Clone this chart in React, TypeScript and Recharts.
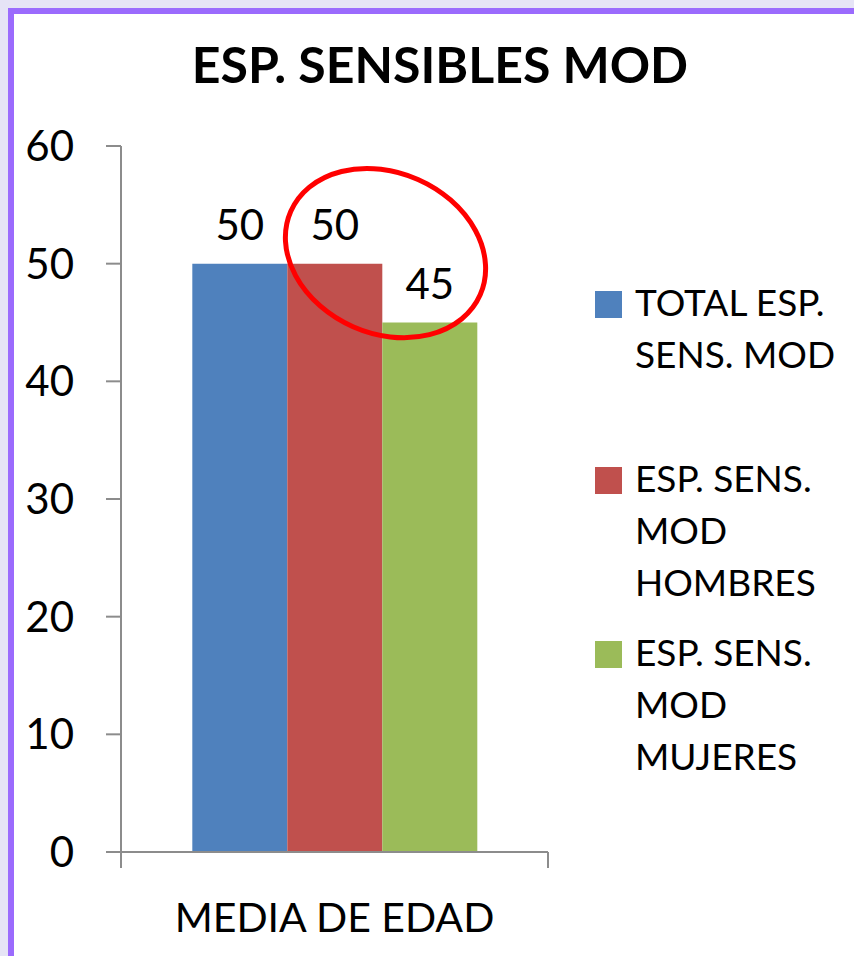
import React from 'react'
import { BarChart, Bar, XAxis, YAxis, Legend, LabelList, ReferenceArea, ReferenceDot } from 'recharts'

const categories = ['MEDIA DE EDAD']
const totalValues = [50]
const hombresValues = [50]
const mujeresValues = [45]
const seriesNames = ['TOTAL ESP. SENS. MOD', 'ESP. SENS. MOD HOMBRES', 'ESP. SENS. MOD MUJERES']
const legendLines = [
  ['TOTAL ESP.', 'SENS. MOD'],
  ['ESP. SENS.', 'MOD', 'HOMBRES'],
  ['ESP. SENS.', 'MOD', 'MUJERES'],
]
const yTicks = [0, 10, 20, 30, 40, 50, 60]
const title = 'ESP. SENSIBLES MOD'

const data = categories.map((c, i) => ({
  cat: c,
  total: totalValues[i],
  hombres: hombresValues[i],
  mujeres: mujeresValues[i],
}))

const FONT = 'Lato, "Open Sans", sans-serif'
const AXIS = '#8c8c8c'
const colors = ['#4f81bd', '#c0504d', '#9bbb59']
const legendGaps = [0, 72, 18]

function BoundaryTicks(props: any) {
  const { x, y, width, height } = props
  return (
    <g>
      <line x1={x} y1={y} x2={x} y2={y + height} stroke={AXIS} strokeWidth={2} />
      <line x1={x + width} y1={y} x2={x + width} y2={y + height} stroke={AXIS} strokeWidth={2} />
    </g>
  )
}

function Highlight(props: any) {
  const { cx, cy } = props
  const ex = cx + 51
  return (
    <ellipse cx={ex} cy={cy} rx={103.5} ry={80.5} transform={`rotate(23.8 ${ex} ${cy})`}
      fill="none" stroke="#ff0000" strokeWidth={5} />
  )
}

function LegendBox({ payload }: any) {
  // keep the series order, recharts sorts the payload by name
  const items = [...(payload || [])].sort(
    (a: any, b: any) => seriesNames.indexOf(a.value) - seriesNames.indexOf(b.value)
  )
  return (
    <div style={{ fontFamily: FONT, fontSize: 37, lineHeight: '52px', color: '#000' }}>
      {items.map((p: any, i: number) => {
        const k = seriesNames.indexOf(p.value)
        return (
          <div key={i} style={{ position: 'relative', marginTop: legendGaps[i], paddingLeft: 40 }}>
            <div style={{ position: 'absolute', left: 0, top: 15, width: 27, height: 27, background: p.color }} />
            {legendLines[k].map((l, j) => <div key={j} style={{ whiteSpace: 'nowrap' }}>{l}</div>)}
          </div>
        )
      })}
    </div>
  )
}

export default function App() {
  const tickStyle = { fontSize: 42, fill: '#000', fontFamily: FONT }
  return (
    <div style={{ position: 'absolute', left: 0, top: 0, width: 854, height: 956, overflow: 'hidden', background: '#e6e4f6' }}>
      <div style={{
        position: 'absolute', left: 8, top: 8, width: 900, height: 1000, background: '#fff',
        borderTop: '6px solid #9b6bfd', borderLeft: '6px solid #9b6bfd',
      }} />
      <div style={{
        position: 'absolute', left: 140, top: 38, width: 600, textAlign: 'center',
        fontFamily: FONT, fontWeight: 700, fontSize: 50, lineHeight: '52px', color: '#000',
      }}>{title}</div>
      <div style={{ position: 'absolute', left: 0, top: 0 }}>
        <BarChart width={854} height={956} data={data}
          margin={{ top: 146, right: 47, bottom: 14, left: 0 }}
          barCategoryGap="16.7%" barGap={0}>
          <XAxis dataKey="cat" tickLine={false} tickSize={0} tickMargin={51} height={90}
            axisLine={{ stroke: AXIS, strokeWidth: 2 }} tick={{ ...tickStyle, fontSize: 41 }} interval={0} />
          <YAxis domain={[0, 60]} ticks={yTicks} interval={0} width={121}
            tickSize={15} tickMargin={32} tick={tickStyle}
            axisLine={{ stroke: AXIS, strokeWidth: 2 }} tickLine={{ stroke: AXIS, strokeWidth: 2 }} />
          <Legend layout="vertical" align="right" verticalAlign="top" content={<LegendBox />}
            wrapperStyle={{ left: 595, top: 276, width: 259, height: 540 }} />
          <Bar dataKey="total" name={seriesNames[0]} fill={colors[0]} isAnimationActive={false}>
            <LabelList dataKey="total" position="top" offset={24} style={{ fontSize: 42, fill: '#000', fontFamily: FONT }} />
          </Bar>
          <Bar dataKey="hombres" name={seriesNames[1]} fill={colors[1]} isAnimationActive={false}>
            <LabelList dataKey="hombres" position="top" offset={24} style={{ fontSize: 42, fill: '#000', fontFamily: FONT }} />
          </Bar>
          <Bar dataKey="mujeres" name={seriesNames[2]} fill={colors[2]} isAnimationActive={false}>
            <LabelList dataKey="mujeres" position="top" offset={24} style={{ fontSize: 42, fill: '#000', fontFamily: FONT }} />
          </Bar>
          <ReferenceArea y1={0} y2={-1.36} ifOverflow="visible" shape={BoundaryTicks} />
          <ReferenceDot x={categories[0]} y={50.9} ifOverflow="visible" shape={Highlight} />
        </BarChart>
      </div>
    </div>
  )
}
